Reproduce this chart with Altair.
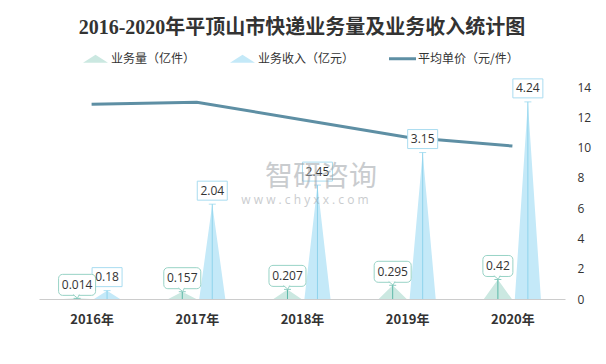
import altair as alt
import pandas as pd

# ---- data ----
years = ["2016年", "2017年", "2018年", "2019年", "2020年"]
volume = [0.014, 0.157, 0.207, 0.295, 0.42]      # 业务量（亿件）
revenue = [0.18, 2.04, 2.45, 3.15, 4.24]         # 业务收入（亿元）
price = [12.86, 12.99, 11.84, 10.68, 10.10]      # 平均单价（元/件）
series_names = ["业务量（亿件）", "业务收入（亿元）", "平均单价（元/件）"]
price_ticks = [0, 2, 4, 6, 8, 10, 12, 14]
title_text = "2016-2020年平顶山市快递业务量及业务收入统计图"
wm_main = "智研咨询"
wm_sub = "w w w . c h y x x . c o m"

# ---- style constants ----
VOL_OFF, VOL_HW = -0.138, 0.133
REV_OFF, REV_HW = 0.147, 0.124
C_VOL, C_REV, C_LINE = "#cbe8e1", "#c4e9f8", "#5e8fa4"
C_VOL_LEAD, C_REV_LEAD = "#5cb8a8", "#8fd4ec"
C_VOL_BOX, C_REV_BOX = "#98d3c6", "#a9dcf0"
FONT = "'Noto Sans CJK SC', 'Noto Sans', sans-serif"
NUMFONT = "'Open Sans', 'Noto Sans', sans-serif"

# ---- tables built from the arrays ----
tri_rows, pt_rows = [], []
for i, (v, r) in enumerate(zip(volume, revenue)):
    for name, val, off, hw in ((series_names[0], v, VOL_OFF, VOL_HW),
                               (series_names[1], r, REV_OFF, REV_HW)):
        key = f"{name}-{i}"
        c = i + off
        tri_rows += [dict(key=key, series=name, x=c - hw, y=0.0),
                     dict(key=key, series=name, x=c, y=val),
                     dict(key=key, series=name, x=c + hw, y=0.0)]
        pt_rows.append(dict(series=name, x=c, y=val, label=str(val)))
tri = pd.DataFrame(tri_rows)
pts = pd.DataFrame(pt_rows)
line_df = pd.DataFrame({"x": list(range(len(years))), "price": price})
legend_df = pd.DataFrame({"series": series_names})

x_scale = alt.Scale(domain=[-0.5, len(years) - 0.5], nice=False, zero=False)
yl = alt.Scale(domain=[0, 4.56], nice=False, zero=True)
yr = alt.Scale(domain=[0, 14], nice=False)

label_expr = "[" + ",".join(f"'{y}'" for y in years) + "][datum.value]"
x_axis = alt.Axis(values=list(range(len(years))), labelExpr=label_expr, title=None,
                  domainColor="#cccccc", ticks=False, grid=False, labelFont=FONT,
                  labelFontSize=13, labelFontWeight="bold", labelColor="#333333",
                  labelPadding=14)
X = alt.X("x:Q", scale=x_scale, axis=x_axis)
YL = alt.Y("y:Q", scale=yl, axis=None)

vol_name, rev_name = series_names[0], series_names[1]

def spikes(name, color):
    return alt.Chart(tri[tri.series == name]).mark_area(color=color, opacity=1).encode(
        x=X, y=YL, detail="key:N")

def leaders(name, color):
    d = pts[pts.series == name]
    rule = alt.Chart(d).mark_rule(color=color, strokeWidth=1).encode(x=X, y=YL, y2=alt.datum(0))
    cap = alt.Chart(d).mark_tick(color=color, orient="horizontal", size=7, thickness=1).encode(x=X, y=YL)
    return [rule, cap]

def boxes(name, color, w, h, gap, radius, cond):
    d = pts[(pts.series == name) & cond(pts.label.str.len())]
    return alt.Chart(d).mark_rect(fill="white", stroke=color, strokeWidth=1,
                                  cornerRadius=radius, xOffset=-w / 2, x2Offset=w / 2,
                                  yOffset=-(gap + h), y2Offset=-gap).encode(
        x=X, x2=alt.X2("x"), y=YL, y2=alt.Y2("y"))

def tails(name, color):
    d = pts[pts.series == name]
    return alt.Chart(d).mark_point(shape="M-1,-0.95L0.1,-0.05L0.55,-0.95", filled=False,
                                   fill="white", fillOpacity=1, stroke=color, strokeWidth=1,
                                   opacity=1, size=64).encode(x=X, y=YL)

def texts(name, dy):
    d = pts[pts.series == name]
    return alt.Chart(d).mark_text(font=NUMFONT, fontSize=12, color="#333333",
                                  baseline="middle", dy=dy).encode(x=X, y=YL, text="label:N")

line = alt.Chart(line_df).mark_line(color=C_LINE, strokeWidth=3).encode(
    x=X,
    y=alt.Y("price:Q", scale=yr,
            axis=alt.Axis(orient="right", values=price_ticks, title=None, domain=False,
                          ticks=False, grid=False, labelPadding=12, labelAlign="left",
                          labelColor="#333333", labelFontSize=12, labelFont=NUMFONT)))

tri_path = "M-1,0.32L0,-0.32L1,0.32Z"
bar_path = "M-1.08,-0.12L1.08,-0.12L1.08,0.12L-1.08,0.12Z"
leg = alt.Legend(orient="none", legendX=44, legendY=-41, direction="horizontal", title=None,
                 labelFont=FONT, labelFontSize=12, labelColor="#333333", symbolSize=625,
                 symbolStrokeWidth=0, columnPadding=34, labelOffset=3, symbolOpacity=1)
legend_layer = alt.Chart(legend_df).mark_point(filled=True, opacity=0, size=625).encode(
    x=alt.value(0), y=alt.value(0),
    color=alt.Color("series:N", scale=alt.Scale(domain=series_names, range=[C_VOL, C_REV, C_LINE]), legend=leg),
    shape=alt.Shape("series:N", scale=alt.Scale(domain=series_names, range=[tri_path, tri_path, bar_path]), legend=leg))

wm = alt.Chart(pd.DataFrame({"t": [wm_main]})).mark_text(
    font=FONT, fontSize=28, color="#9ea3a8", opacity=0.55, baseline="middle").encode(
    x=alt.value(282), y=alt.value(91), text="t:N")
wm2 = alt.Chart(pd.DataFrame({"t": [wm_sub]})).mark_text(
    font=NUMFONT, fontSize=12, color="#9ea3a8", opacity=0.55, baseline="middle").encode(
    x=alt.value(266), y=alt.value(113), text="t:N")

layers = [spikes(vol_name, C_VOL), spikes(rev_name, C_REV)]
layers += leaders(vol_name, C_VOL_LEAD) + leaders(rev_name, C_REV_LEAD)
layers += [line]
layers += [boxes(rev_name, C_REV_BOX, 30, 19, 4, 0, lambda s: s > 0),
           boxes(vol_name, C_VOL_BOX, 37, 21, 3, 4, lambda s: s >= 5),
           boxes(vol_name, C_VOL_BOX, 30, 21, 3, 4, lambda s: s < 5),
           tails(vol_name, C_VOL_BOX),
           texts(rev_name, -13.5), texts(vol_name, -13.5), legend_layer, wm, wm2]

chart = alt.layer(*layers).resolve_scale(y="independent").properties(
    width=526, height=212,
    autosize=alt.AutoSizeParams(type="none"),
    padding={"left": 31, "top": 79, "right": 33, "bottom": 57},
    title=alt.TitleParams(title_text, font="'Liberation Serif', 'Noto Sans CJK SC', serif",
                          fontSize=20, fontWeight="bold", color="#333333", anchor="middle", offset=8),
    background="white",
).configure_view(stroke=None)

chart.save("out.html", embed_options={"renderer": "svg", "actions": False})
